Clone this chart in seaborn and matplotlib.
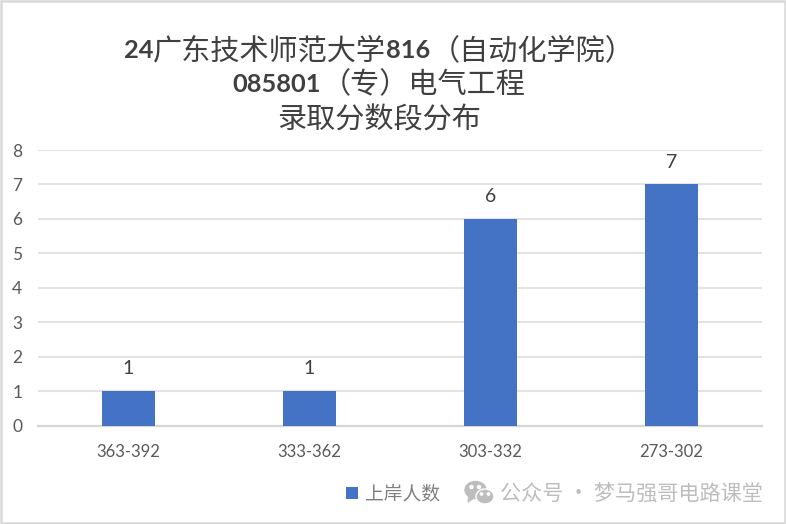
import matplotlib
matplotlib.use('Agg')
import matplotlib.pyplot as plt
import pandas as pd
import seaborn as sns
from matplotlib.patches import Circle, Ellipse, Polygon, Rectangle

W, H = 786, 524

score_bands = ['363-392', '333-362', '303-332', '273-302']
admitted = [1, 1, 6, 7]
yticks = [0, 1, 2, 3, 4, 5, 6, 7, 8]
legend_label = '上岸人数'
watermark = '公众号 · 梦马强哥电路课堂'

sns.set_theme(style='white')
plt.rcParams['font.family'] = ['Lato', 'Noto Sans CJK SC', 'DejaVu Sans']

df = pd.DataFrame({'band': score_bands, 'n': admitted})

fig = plt.figure(figsize=(W / 100, H / 100), dpi=100)
ax = fig.add_axes([37.5 / W, 1 - 425.5 / H, 724.5 / W, 275.5 / H])

sns.barplot(data=df, x='band', y='n', color='#4472C4', saturation=1, width=0.292,
            label=legend_label, legend=False, zorder=3, linewidth=0, ax=ax)
ax.set_xlim(-0.5, 3.5)
ax.set_ylim(0, 8)
ax.set_yticks(yticks)
ax.set_xlabel('')
ax.set_ylabel('')
ax.grid(axis='y', color='#e3e3e3', linewidth=1.5, zorder=0)
ax.set_axisbelow(True)
sns.despine(ax=ax, left=True, top=True, right=True)
ax.spines['bottom'].set_color('#d6d6d6')
ax.spines['bottom'].set_linewidth(1.6)
ax.tick_params(axis='both', length=0, labelcolor='#595959', labelsize=12)
ax.tick_params(axis='x', pad=13)
ax.tick_params(axis='y', pad=11)
for t in ax.get_yticklabels():
    t.set_fontsize(12.5)
ax.bar_label(ax.containers[0], padding=10, fontsize=14, color='#404040')


def mixed_line(y, parts, size=21, num_size=18.3):
    # draw the pieces once to measure, then centre the whole line on the chart
    fig.canvas.draw()
    r = fig.canvas.get_renderer()
    items = []
    for s, bold in parts:
        if bold:
            t = fig.text(0, 0, s, fontsize=num_size, fontweight='bold', family=['Lato'], color='#404040', va='center')
        else:
            t = fig.text(0, 0, s, fontsize=size, family=['Noto Sans CJK SC'], color='#404040', va='center')
        items.append(t)
    widths = [t.get_window_extent(r).width for t in items]
    x = 379 - sum(widths) / 2
    for t, w in zip(items, widths):
        t.set_position((x / W, 1 - y / H))
        x += w


mixed_line(51, [('24', True), ('广东技术师范大学', False), ('816', True), ('（自动化学院）', False)])
mixed_line(85, [('085801', True), ('（专）电气工程', False)])
mixed_line(120, [('录取分数段分布', False)])

fig.legend(*ax.get_legend_handles_labels(), loc='center left', bbox_to_anchor=(346 / W, 1 - 493.5 / H),
           frameon=False, fontsize=13.5, labelcolor='#7f7f7f', handlelength=0.64, handleheight=0.64,
           handletextpad=0.4, borderpad=0, borderaxespad=0)

fig.text(500 / W, 1 - 494 / H, watermark, fontsize=15.2, color='#bdbdbd', va='center',
         family=['Noto Sans CJK SC', 'DejaVu Sans'])

# wechat icon and picture frame, in pixel coordinates of the figure
px = fig.add_axes([0, 0, 1, 1], facecolor='none')
px.set_xlim(0, W)
px.set_ylim(H, 0)
px.axis('off')
px.add_patch(Ellipse((475.5, 490), 21, 17, color='#bdbdbd'))
px.add_patch(Polygon([(469, 496), (468, 502), (475, 497)], color='#bdbdbd'))
px.add_patch(Circle((471.5, 487), 1.5, color='white'))
px.add_patch(Circle((479, 487), 1.5, color='white'))
px.add_patch(Ellipse((485, 496.5), 18, 15, fc='#bdbdbd', ec='white', lw=1))
px.add_patch(Circle((481.5, 494), 1.2, color='white'))
px.add_patch(Circle((488.5, 494), 1.2, color='white'))
px.add_patch(Rectangle((1, 1), W - 2, H - 2, fill=False, ec='#d9d9d9', lw=1.8))

fig.savefig('out.png', dpi=100)
